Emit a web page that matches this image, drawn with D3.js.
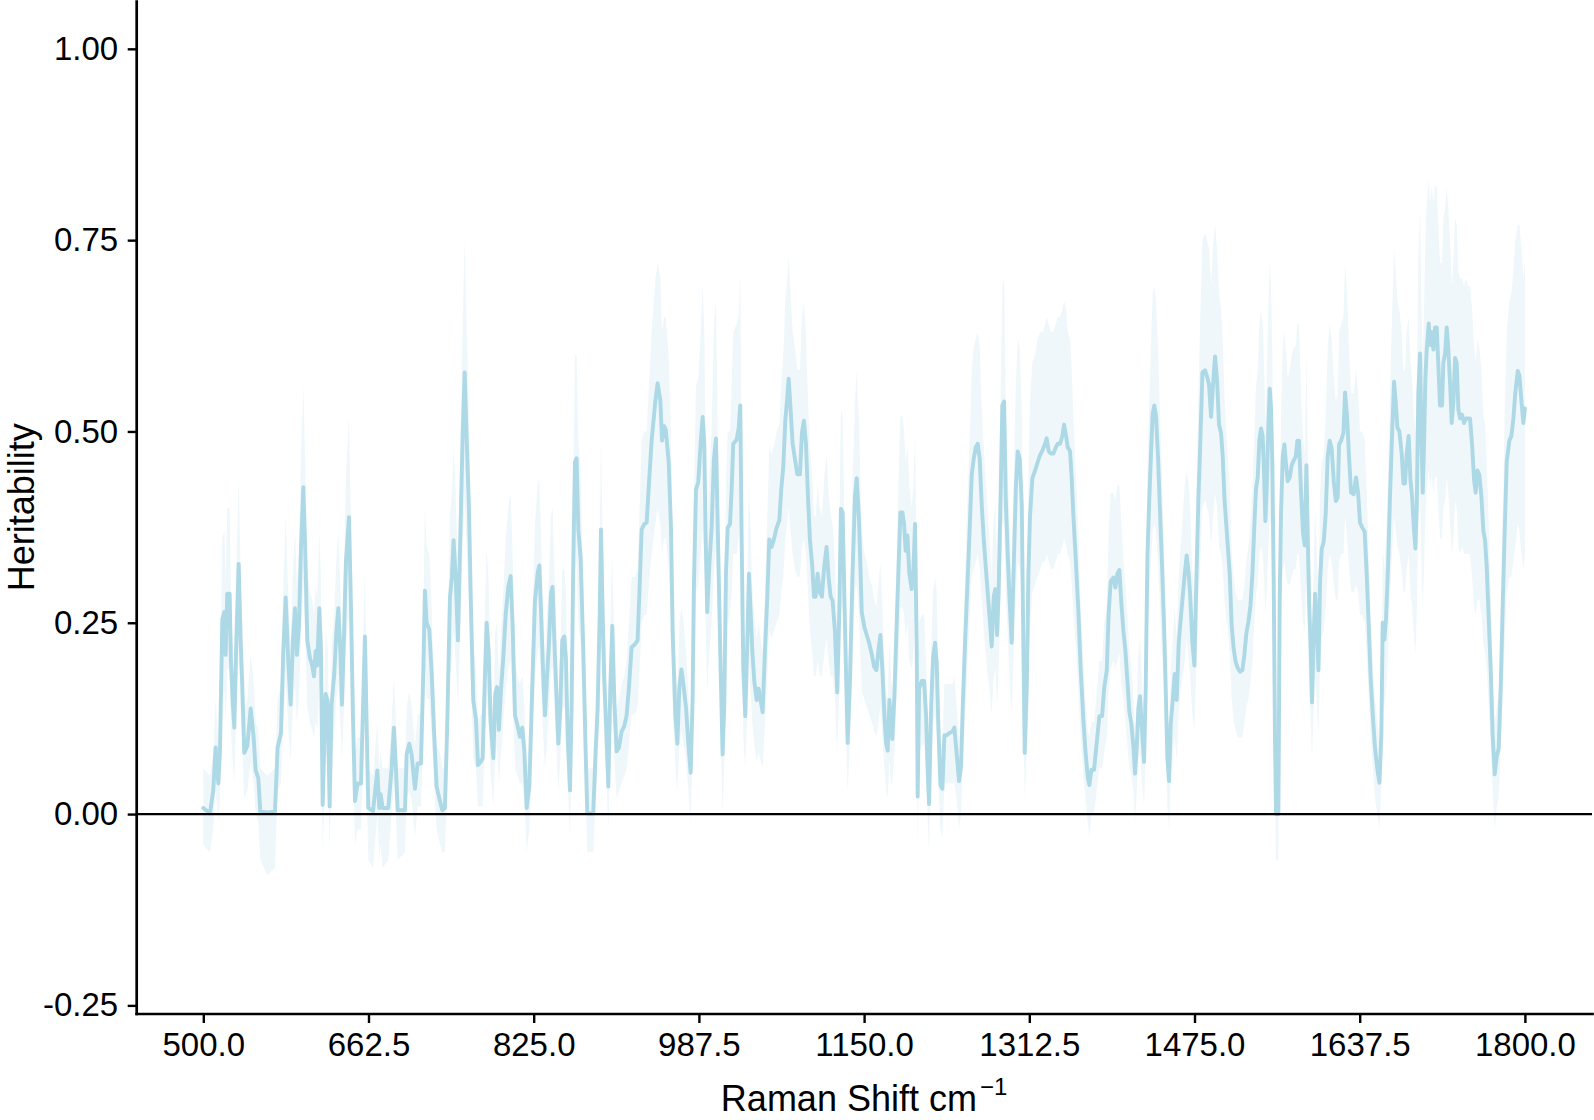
<!DOCTYPE html>
<html><head><meta charset="utf-8">
<script src="https://cdn.jsdelivr.net/npm/d3@7"></script>
<style>
body{margin:0;background:#fff}
svg{display:block}
text{font-family:"Liberation Sans",Arial,Helvetica,sans-serif;fill:#000}
</style>
</head><body>
<svg id="chart" width="1594" height="1120"></svg>
<script>
// Raman shift (cm^-1) of each vertex of the heritability trace
const ramanShift = [
500.0,506.6,509.8,512.1,514.8,516.4,518.7,520.7,522.0,523.6,
525.9,527.2,528.9,530.5,532.5,534.8,536.7,538.4,540.3,543.3,
546.6,549.5,551.5,554.1,556.1,563.0,570.5,573.1,576.4,578.7,
581.0,583.6,585.9,588.2,590.2,592.1,594.1,596.1,598.4,600.3,
602.3,604.9,607.2,608.9,610.5,612.1,614.1,615.7,617.4,620.3,
622.3,624.3,626.2,628.9,630.8,632.8,634.8,636.4,638.4,640.3,
643.3,645.3,647.2,649.2,651.8,655.1,659.0,662.3,667.0,671.2,
673.1,674.4,676.4,682.0,685.2,687.5,689.5,691.2,698.4,700.0,
702.6,704.9,708.2,710.8,714.1,716.4,718.0,719.7,722.3,724.6,
726.9,729.5,732.8,735.1,737.7,740.0,742.6,744.6,746.2,748.2,
750.5,752.5,755.1,757.1,759.0,761.3,763.3,765.6,768.2,770.2,
772.8,774.8,776.7,778.7,780.7,782.6,785.3,787.2,788.9,790.8,
792.8,795.1,797.4,800.0,802.3,804.3,806.6,809.2,811.5,813.8,
815.8,818.1,820.7,823.6,826.2,828.9,830.5,832.1,834.4,836.1,
838.0,840.0,842.0,843.6,845.3,847.5,849.2,851.2,853.1,855.1,
856.7,858.4,860.7,862.3,863.9,865.6,867.2,868.9,871.2,873.8,
876.1,877.7,883.6,885.9,887.9,889.9,891.2,892.8,894.4,896.7,
898.4,900.3,902.3,904.3,906.6,908.9,911.5,914.1,916.4,918.7,
921.3,924.6,927.2,929.2,931.2,933.8,936.1,938.4,941.0,944.7,
946.9,949.6,951.2,953.2,954.9,957.8,960.1,961.7,964.4,966.3,
968.3,970.3,972.6,974.9,977.1,979.4,981.3,982.6,984.6,986.9,
989.2,991.2,992.8,994.1,995.7,997.7,1000.0,1002.3,1004.3,1006.6,
1008.9,1010.8,1012.5,1014.1,1015.8,1018.1,1019.7,1021.3,1024.6,1026.6,
1028.2,1029.5,1031.2,1033.1,1035.1,1036.7,1038.4,1040.0,1042.0,1044.3,
1046.2,1048.2,1050.2,1052.5,1054.8,1056.7,1059.0,1061.3,1063.9,1066.6,
1068.5,1070.5,1072.5,1074.4,1075.8,1077.7,1079.7,1082.0,1084.3,1086.9,
1088.9,1090.8,1092.8,1094.8,1096.7,1099.0,1100.7,1102.3,1104.3,1106.6,
1108.5,1110.8,1113.1,1115.1,1117.1,1119.0,1121.3,1123.6,1125.6,1127.2,
1128.9,1130.5,1132.2,1133.8,1136.1,1138.4,1141.0,1142.7,1145.0,1147.7,
1150.3,1152.6,1154.9,1157.5,1159.8,1162.1,1164.1,1166.0,1168.0,1170.0,
1171.6,1173.2,1174.9,1176.5,1177.8,1179.8,1181.8,1183.7,1185.7,1187.7,
1189.3,1190.9,1192.6,1194.5,1196.8,1198.5,1200.1,1201.8,1202.7,1204.1,
1206.7,1209.0,1211.0,1212.6,1213.9,1215.9,1217.8,1219.8,1221.4,1223.1,
1225.1,1227.0,1229.0,1231.3,1233.9,1236.9,1238.8,1241.1,1243.4,1245.4,
1247.0,1249.3,1251.6,1253.6,1255.9,1257.8,1259.8,1261.8,1263.7,1265.7,
1267.7,1269.6,1271.6,1273.6,1275.5,1277.5,1279.1,1280.8,1282.4,1284.4,
1286.0,1287.7,1289.3,1291.3,1293.3,1295.2,1297.2,1299.2,1301.1,1303.1,
1305.1,1306.7,1308.0,1310.0,1311.6,1313.2,1315.5,1318.2,1320.5,1323.1,
1325.7,1328.0,1329.6,1331.6,1333.9,1336.2,1338.5,1340.5,1342.8,1345.0,
1346.7,1348.7,1350.3,1352.6,1354.2,1355.9,1358.2,1360.8,1363.1,1365.7,
1367.7,1370.0,1371.6,1373.6,1376.2,1378.8,1381.4,1384.1,1386.1,1388.7,
1390.6,1392.6,1395.2,1397.2,1399.1,1401.1,1403.1,1405.1,1407.0,1409.0,
1411.0,1412.9,1414.9,1416.5,1418.2,1419.8,1421.4,1423.4,1425.4,1427.0,
1428.7,1430.3,1432.3,1433.9,1435.5,1437.2,1439.2,1441.1,1443.1,1445.1,
1446.7,1448.3,1450.0,1451.6,1453.6,1455.5,1457.5,1459.5,1461.4,1463.4,
1465.4,1467.3,1469.3,1470.6,1472.9,1474.9,1476.8,1478.8,1480.5,1482.8,
1485.4,1487.3,1489.3,1491.3,1493.2,1495.2,1497.2,1499.1,1501.1,1502.8,
1504.4,1506.0,1507.7,1509.6,1511.6,1513.6,1515.5,1517.5,1519.8,1522.1,
1524.1,1526.0,1528.0,1530.0,1532.0,1533.9,1535.5,1537.2,1538.8,1540.5,
1542.1,1543.4,1544.7,1546.0,1547.7,1549.0,1550.3,1551.6,1552.9,1554.2,
1555.2,1557.5,1558.8,1560.1,1561.8,1563.4,1565.1,1566.7,1568.7,1570.6,
1572.6,1574.6,1576.2,1577.8,1579.8,1581.8,1583.4,1585.1,1586.4,1587.7,
1589.3,1590.6,1592.3,1593.6,1595.2,1596.9,1598.5,1600.1,1602.1,1604.1,
1606.0,1608.0,1610.0,1612.0,1614.0,1615.9,1617.2,1619.2,1621.5,1623.1,
1625.1,1627.0,1629.0,1631.6,1633.9,1635.9,1637.8,1639.8,1642.4,1644.4,
1646.4,1648.3,1650.3,1652.6,1654.9,1656.9,1658.8,1660.1,1661.8,1663.4,
1665.4,1667.3,1669.3,1671.3,1672.9,1674.6,1676.5,1678.8,1680.5,1682.1,
1683.7,1685.7,1687.4,1689.0,1691.0,1692.3,1693.6,1695.2,1696.9,1698.2,
1699.5,1700.8,1702.1,1703.4,1705.4,1706.7,1708.3,1710.0,1711.6,1713.3,
1714.9,1716.5,1718.5,1719.8,1721.5,1723.1,1724.7,1726.4,1728.0,1729.7,
1731.3,1732.9,1734.6,1736.2,1738.2,1740.1,1742.1,1744.1,1746.0,1748.0,
1750.0,1751.6,1753.3,1755.2,1757.2,1759.2,1760.8,1762.4,1764.4,1766.4,
1768.3,1770.3,1772.3,1774.2,1776.2,1778.2,1780.1,1782.1,1784.7,1786.7,
1788.7,1790.6,1793.0,1794.6,1796.6,1798.5,1800.0
];

// Heritability estimate at each vertex
const heritability = [
0.008,0.001,0.031,0.087,0.040,0.082,0.255,0.264,0.208,0.288,
0.288,0.199,0.148,0.113,0.227,0.327,0.227,0.166,0.080,0.089,
0.138,0.101,0.057,0.047,0.003,0.002,0.003,0.087,0.106,0.213,
0.283,0.199,0.143,0.227,0.269,0.208,0.246,0.348,0.427,0.344,
0.227,0.204,0.194,0.180,0.213,0.194,0.269,0.218,0.012,0.157,
0.148,0.010,0.143,0.185,0.236,0.269,0.213,0.143,0.232,0.330,
0.388,0.269,0.129,0.017,0.040,0.040,0.232,0.008,0.004,0.057,
0.008,0.026,0.008,0.008,0.059,0.113,0.059,0.005,0.005,0.078,
0.092,0.078,0.033,0.066,0.066,0.185,0.292,0.250,0.241,0.185,
0.110,0.036,0.017,0.005,0.008,0.120,0.283,0.311,0.358,0.311,
0.227,0.344,0.493,0.577,0.493,0.400,0.269,0.148,0.124,0.064,
0.068,0.073,0.166,0.250,0.213,0.120,0.073,0.157,0.166,0.110,
0.162,0.204,0.260,0.297,0.311,0.246,0.129,0.115,0.101,0.113,
0.082,0.008,0.036,0.166,0.278,0.315,0.325,0.269,0.180,0.129,
0.176,0.222,0.288,0.297,0.227,0.152,0.092,0.138,0.227,0.232,
0.204,0.101,0.031,0.143,0.325,0.460,0.465,0.372,0.334,0.213,
0.082,0.001,0.001,0.082,0.138,0.260,0.372,0.264,0.176,0.101,
0.036,0.162,0.246,0.148,0.082,0.087,0.108,0.115,0.129,0.166,
0.218,0.222,0.227,0.297,0.372,0.379,0.381,0.432,0.488,0.540,
0.563,0.540,0.488,0.507,0.502,0.460,0.372,0.236,0.129,0.092,
0.166,0.189,0.166,0.138,0.092,0.054,0.150,0.299,0.424,0.434,
0.484,0.519,0.484,0.364,0.264,0.324,0.374,0.464,0.491,0.338,
0.188,0.078,0.144,0.314,0.374,0.379,0.424,0.484,0.489,0.504,
0.534,0.364,0.188,0.128,0.224,0.314,0.264,0.214,0.174,0.149,
0.164,0.149,0.133,0.214,0.284,0.359,0.349,0.359,0.374,0.384,
0.424,0.454,0.514,0.544,0.569,0.529,0.484,0.464,0.444,0.444,
0.499,0.514,0.484,0.414,0.359,0.324,0.284,0.284,0.314,0.289,
0.284,0.324,0.349,0.309,0.284,0.279,0.239,0.159,0.264,0.399,
0.394,0.289,0.188,0.093,0.174,0.304,0.414,0.439,0.384,0.264,
0.244,0.234,0.224,0.209,0.193,0.188,0.214,0.234,0.188,0.128,
0.093,0.083,0.149,0.113,0.098,0.154,0.239,0.314,0.394,0.394,
0.379,0.344,0.364,0.314,0.294,0.319,0.379,0.214,0.023,0.164,
0.174,0.174,0.128,0.053,0.013,0.138,0.204,0.224,0.198,0.113,
0.038,0.033,0.103,0.103,0.106,0.108,0.113,0.078,0.043,0.063,
0.138,0.224,0.299,0.364,0.444,0.464,0.479,0.484,0.464,0.404,
0.359,0.324,0.289,0.254,0.219,0.284,0.294,0.234,0.294,0.424,
0.534,0.539,0.414,0.338,0.274,0.224,0.324,0.424,0.474,0.464,
0.404,0.214,0.080,0.164,0.314,0.389,0.439,0.449,0.459,0.469,
0.476,0.484,0.491,0.474,0.471,0.471,0.479,0.484,0.484,0.494,
0.509,0.494,0.479,0.474,0.439,0.389,0.333,0.264,0.188,0.123,
0.083,0.048,0.038,0.058,0.058,0.093,0.128,0.128,0.164,0.188,
0.264,0.304,0.309,0.296,0.314,0.319,0.274,0.239,0.214,0.174,
0.133,0.118,0.088,0.053,0.088,0.138,0.154,0.108,0.068,0.164,
0.338,0.404,0.474,0.524,0.534,0.519,0.464,0.394,0.324,0.244,
0.164,0.073,0.043,0.118,0.149,0.183,0.149,0.224,0.254,0.284,
0.314,0.338,0.314,0.288,0.225,0.194,0.304,0.409,0.477,0.577,
0.580,0.572,0.561,0.519,0.561,0.598,0.567,0.509,0.498,0.467,
0.414,0.383,0.351,0.315,0.246,0.215,0.199,0.191,0.186,0.188,
0.209,0.236,0.251,0.272,0.315,0.378,0.425,0.440,0.488,0.504,
0.493,0.446,0.383,0.425,0.509,0.556,0.530,0.456,0.304,0.094,
0.000,0.000,0.278,0.393,0.467,0.483,0.456,0.435,0.440,0.456,
0.462,0.467,0.488,0.488,0.420,0.367,0.351,0.456,0.362,0.278,
0.215,0.146,0.236,0.288,0.251,0.188,0.304,0.346,0.356,0.393,
0.467,0.488,0.477,0.435,0.409,0.414,0.483,0.488,0.498,0.551,
0.519,0.467,0.420,0.418,0.440,0.420,0.381,0.375,0.369,0.313,
0.245,0.177,0.131,0.086,0.058,0.041,0.103,0.250,0.228,0.256,
0.324,0.415,0.494,0.565,0.539,0.505,0.500,0.471,0.432,0.432,
0.471,0.494,0.437,0.415,0.369,0.347,0.403,0.551,0.602,0.494,
0.420,0.483,0.568,0.607,0.641,0.613,0.630,0.607,0.636,0.636,
0.585,0.534,0.534,0.590,0.602,0.636,0.607,0.562,0.511,0.539,
0.596,0.590,0.528,0.517,0.522,0.511,0.517,0.517,0.517,0.483,
0.437,0.420,0.449,0.443,0.415,0.369,0.358,0.324,0.256,0.188,
0.103,0.052,0.075,0.086,0.165,0.273,0.369,0.460,0.488,0.494,
0.517,0.551,0.579,0.573,0.539,0.511,0.530
];

// Lower bound of the confidence band
const lowerCI = [
-0.04,-0.05,-0.02,0.03,-0.01,0.02,0.16,0.16,0.12,0.19,
0.19,0.11,0.07,0.04,0.14,0.22,0.14,0.09,0.02,0.03,
0.07,0.04,0.00,-0.01,-0.06,-0.08,-0.07,0.03,0.04,0.12,
0.18,0.11,0.07,0.14,0.17,0.12,0.15,0.23,0.30,0.23,
0.14,0.12,0.11,0.10,0.12,0.11,0.17,0.13,-0.05,0.08,
0.07,-0.05,0.07,0.10,0.15,0.17,0.12,0.07,0.14,0.22,
0.26,0.17,0.06,-0.04,-0.02,-0.02,0.14,-0.06,-0.07,0.00,
-0.06,-0.04,-0.07,-0.06,0.00,0.04,0.00,-0.06,-0.05,0.02,
0.03,0.02,-0.03,0.01,0.01,0.10,0.19,0.15,0.15,0.10,
0.04,-0.02,-0.04,-0.05,-0.05,0.05,0.18,0.20,0.24,0.20,
0.14,0.23,0.35,0.41,0.35,0.27,0.17,0.07,0.06,0.01,
0.01,0.01,0.09,0.15,0.12,0.05,0.01,0.08,0.09,0.04,
0.08,0.12,0.16,0.19,0.20,0.15,0.06,0.05,0.04,0.04,
0.02,-0.05,-0.02,0.09,0.18,0.21,0.22,0.17,0.10,0.06,
0.09,0.13,0.19,0.19,0.14,0.08,0.03,0.07,0.14,0.14,
0.12,0.04,-0.03,0.07,0.22,0.32,0.33,0.25,0.22,0.12,
0.02,-0.05,-0.05,0.02,0.07,0.16,0.25,0.16,0.09,0.04,
-0.02,0.08,0.15,0.07,0.02,0.03,0.04,0.05,0.06,0.09,
0.13,0.13,0.14,0.19,0.25,0.26,0.26,0.30,0.34,0.38,
0.40,0.38,0.34,0.36,0.36,0.32,0.25,0.14,0.06,0.03,
0.09,0.11,0.09,0.07,0.03,-0.01,0.08,0.19,0.29,0.30,
0.34,0.37,0.34,0.25,0.16,0.21,0.25,0.32,0.35,0.23,
0.10,0.00,0.07,0.20,0.25,0.26,0.29,0.34,0.34,0.36,
0.38,0.25,0.10,0.06,0.13,0.20,0.16,0.12,0.09,0.07,
0.08,0.07,0.06,0.12,0.18,0.24,0.23,0.24,0.25,0.26,
0.29,0.31,0.36,0.38,0.40,0.37,0.34,0.32,0.31,0.31,
0.35,0.36,0.34,0.29,0.24,0.21,0.18,0.18,0.20,0.18,
0.18,0.21,0.23,0.20,0.18,0.18,0.15,0.08,0.16,0.27,
0.27,0.18,0.10,0.03,0.09,0.19,0.29,0.30,0.26,0.16,
0.15,0.14,0.13,0.12,0.11,0.10,0.12,0.14,0.10,0.06,
0.03,0.02,0.07,0.04,0.04,0.08,0.15,0.20,0.27,0.27,
0.26,0.23,0.25,0.20,0.19,0.21,0.26,0.12,-0.04,0.08,
0.09,0.09,0.06,-0.01,-0.05,0.07,0.12,0.13,0.11,0.04,
-0.02,-0.03,0.04,0.04,0.04,0.04,0.04,0.02,-0.02,0.00,
0.07,0.13,0.19,0.25,0.31,0.32,0.33,0.34,0.32,0.28,
0.24,0.21,0.18,0.16,0.13,0.18,0.19,0.14,0.19,0.29,
0.38,0.38,0.29,0.23,0.17,0.13,0.21,0.29,0.33,0.32,
0.28,0.12,0.02,0.08,0.18,0.24,0.29,0.30,0.31,0.32,
0.33,0.33,0.34,0.33,0.32,0.32,0.33,0.34,0.34,0.35,
0.36,0.35,0.34,0.33,0.30,0.26,0.22,0.16,0.10,0.05,
0.02,-0.01,-0.03,0.00,0.00,0.03,0.06,0.06,0.08,0.10,
0.16,0.19,0.20,0.19,0.20,0.21,0.17,0.15,0.12,0.09,
0.06,0.05,0.03,-0.01,0.03,0.07,0.08,0.04,0.01,0.08,
0.23,0.28,0.33,0.37,0.38,0.37,0.32,0.27,0.21,0.15,
0.08,0.01,-0.02,0.05,0.07,0.10,0.07,0.13,0.16,0.18,
0.20,0.23,0.20,0.18,0.13,0.11,0.19,0.28,0.32,0.40,
0.41,0.40,0.39,0.35,0.39,0.42,0.40,0.35,0.34,0.32,
0.28,0.26,0.24,0.21,0.15,0.12,0.11,0.10,0.10,0.10,
0.12,0.14,0.15,0.17,0.20,0.25,0.29,0.30,0.34,0.35,
0.34,0.31,0.26,0.29,0.35,0.39,0.37,0.31,0.19,0.03,
-0.06,-0.06,0.17,0.27,0.32,0.33,0.31,0.30,0.30,0.31,
0.32,0.32,0.34,0.34,0.29,0.25,0.24,0.31,0.25,0.17,
0.12,0.07,0.14,0.18,0.15,0.10,0.19,0.23,0.24,0.27,
0.32,0.34,0.33,0.30,0.28,0.28,0.33,0.34,0.34,0.39,
0.36,0.32,0.29,0.29,0.30,0.29,0.26,0.26,0.25,0.21,
0.15,0.10,0.06,0.02,0.00,-0.02,0.04,0.15,0.14,0.16,
0.21,0.28,0.34,0.39,0.37,0.35,0.34,0.32,0.29,0.29,
0.32,0.34,0.29,0.27,0.23,0.21,0.26,0.38,0.42,0.33,
0.27,0.32,0.39,0.42,0.45,0.43,0.44,0.42,0.44,0.44,
0.40,0.36,0.36,0.40,0.41,0.44,0.42,0.38,0.34,0.36,
0.41,0.40,0.35,0.34,0.35,0.34,0.34,0.34,0.34,0.31,
0.27,0.26,0.28,0.28,0.26,0.22,0.21,0.19,0.14,0.09,
0.03,-0.02,0.01,0.02,0.08,0.16,0.22,0.29,0.31,0.31,
0.33,0.35,0.38,0.37,0.34,0.32,0.34
];

// Upper bound of the confidence band
const upperCI = [
0.06,0.05,0.08,0.15,0.09,0.14,0.36,0.37,0.30,0.40,
0.40,0.29,0.22,0.18,0.32,0.44,0.32,0.25,0.14,0.15,
0.21,0.17,0.12,0.11,0.06,0.05,0.06,0.15,0.17,0.30,
0.39,0.29,0.22,0.32,0.37,0.30,0.34,0.47,0.56,0.46,
0.32,0.29,0.28,0.26,0.30,0.28,0.37,0.31,0.07,0.24,
0.22,0.07,0.22,0.27,0.33,0.37,0.30,0.22,0.32,0.44,
0.52,0.37,0.20,0.08,0.10,0.10,0.32,0.06,0.05,0.12,
0.06,0.08,0.06,0.06,0.12,0.18,0.12,0.06,0.06,0.14,
0.16,0.14,0.09,0.13,0.13,0.27,0.40,0.35,0.34,0.27,
0.18,0.09,0.08,0.06,0.06,0.19,0.39,0.42,0.48,0.42,
0.32,0.46,0.64,0.75,0.64,0.53,0.37,0.22,0.19,0.12,
0.13,0.13,0.25,0.35,0.30,0.19,0.13,0.24,0.25,0.18,
0.24,0.29,0.36,0.40,0.42,0.34,0.20,0.18,0.17,0.18,
0.14,0.06,0.09,0.25,0.38,0.43,0.44,0.37,0.26,0.20,
0.26,0.31,0.39,0.40,0.32,0.23,0.16,0.21,0.32,0.32,
0.29,0.17,0.09,0.22,0.44,0.60,0.60,0.49,0.45,0.30,
0.14,0.06,0.06,0.14,0.21,0.36,0.49,0.37,0.26,0.17,
0.09,0.24,0.34,0.22,0.14,0.15,0.17,0.18,0.20,0.25,
0.31,0.31,0.32,0.40,0.49,0.50,0.50,0.56,0.63,0.70,
0.72,0.70,0.63,0.65,0.65,0.60,0.49,0.33,0.20,0.16,
0.25,0.27,0.25,0.21,0.16,0.11,0.23,0.41,0.56,0.57,
0.63,0.69,0.63,0.48,0.37,0.44,0.50,0.64,0.67,0.45,
0.27,0.14,0.22,0.43,0.50,0.50,0.56,0.63,0.64,0.65,
0.71,0.48,0.27,0.20,0.31,0.43,0.37,0.30,0.26,0.23,
0.25,0.23,0.21,0.30,0.39,0.48,0.47,0.48,0.50,0.51,
0.56,0.60,0.67,0.70,0.73,0.68,0.63,0.61,0.58,0.58,
0.65,0.67,0.63,0.54,0.48,0.44,0.39,0.39,0.43,0.40,
0.39,0.44,0.47,0.42,0.39,0.38,0.33,0.24,0.37,0.53,
0.52,0.40,0.27,0.16,0.26,0.42,0.54,0.58,0.51,0.37,
0.34,0.33,0.31,0.30,0.28,0.27,0.30,0.33,0.27,0.20,
0.16,0.15,0.23,0.18,0.16,0.23,0.33,0.43,0.52,0.52,
0.50,0.46,0.48,0.43,0.40,0.43,0.50,0.30,0.08,0.25,
0.26,0.26,0.20,0.11,0.07,0.21,0.29,0.31,0.29,0.18,
0.09,0.09,0.17,0.17,0.17,0.17,0.18,0.14,0.10,0.12,
0.21,0.31,0.41,0.48,0.58,0.61,0.62,0.63,0.61,0.53,
0.48,0.44,0.40,0.35,0.31,0.39,0.40,0.33,0.40,0.56,
0.69,0.70,0.54,0.45,0.38,0.31,0.44,0.56,0.62,0.61,
0.53,0.30,0.14,0.25,0.45,0.54,0.59,0.60,0.62,0.63,
0.63,0.64,0.65,0.64,0.63,0.63,0.64,0.65,0.65,0.66,
0.67,0.66,0.63,0.62,0.58,0.52,0.45,0.37,0.27,0.20,
0.15,0.11,0.10,0.12,0.12,0.16,0.20,0.20,0.25,0.27,
0.37,0.42,0.42,0.41,0.43,0.43,0.38,0.33,0.30,0.26,
0.21,0.19,0.15,0.11,0.15,0.21,0.23,0.17,0.13,0.25,
0.45,0.53,0.62,0.68,0.69,0.67,0.61,0.52,0.44,0.34,
0.25,0.13,0.10,0.19,0.23,0.27,0.23,0.31,0.35,0.39,
0.43,0.45,0.43,0.40,0.32,0.28,0.42,0.54,0.64,0.75,
0.76,0.75,0.74,0.69,0.74,0.77,0.74,0.68,0.66,0.62,
0.55,0.51,0.47,0.43,0.34,0.31,0.29,0.28,0.28,0.28,
0.30,0.33,0.35,0.38,0.43,0.50,0.56,0.58,0.64,0.66,
0.64,0.59,0.51,0.56,0.67,0.72,0.69,0.60,0.42,0.16,
0.06,0.06,0.39,0.52,0.61,0.63,0.60,0.57,0.58,0.60,
0.61,0.61,0.64,0.64,0.55,0.49,0.47,0.60,0.48,0.39,
0.31,0.22,0.33,0.40,0.35,0.28,0.42,0.46,0.47,0.52,
0.61,0.64,0.62,0.57,0.54,0.55,0.63,0.64,0.65,0.72,
0.68,0.61,0.55,0.55,0.58,0.55,0.50,0.50,0.49,0.42,
0.34,0.26,0.20,0.15,0.12,0.10,0.17,0.35,0.32,0.36,
0.44,0.55,0.65,0.74,0.71,0.67,0.66,0.63,0.58,0.58,
0.63,0.65,0.59,0.57,0.52,0.50,0.56,0.73,0.79,0.67,
0.59,0.66,0.75,0.80,0.83,0.80,0.82,0.80,0.82,0.82,
0.77,0.72,0.72,0.78,0.79,0.82,0.79,0.75,0.69,0.72,
0.78,0.77,0.71,0.70,0.70,0.69,0.70,0.69,0.69,0.66,
0.61,0.59,0.62,0.61,0.58,0.52,0.51,0.46,0.38,0.29,
0.18,0.12,0.14,0.16,0.26,0.39,0.52,0.63,0.67,0.68,
0.71,0.75,0.77,0.77,0.74,0.70,0.72
];

const xTickValues = [500, 662.5, 825, 987.5, 1150, 1312.5, 1475, 1637.5, 1800];
const xTickLabels = ["500.0","662.5","825.0","987.5","1150.0","1312.5","1475.0","1637.5","1800.0"];
const yTickValues = [-0.25, 0, 0.25, 0.5, 0.75, 1];
const yTickLabels = ["-0.25","0.00","0.25","0.50","0.75","1.00"];
const xTitle = "Raman Shift cm";
const xTitleSup = "\u22121";
const yTitle = "Heritability";

(function draw() {
  const n = Math.min(ramanShift.length, heritability.length, lowerCI.length, upperCI.length);
  const idx = d3.range(n);

  const svg = d3.select("#chart");
  const padL = 136.2, padR = 1592, padT = 1.0, padB = 1013.5;
  const x = d3.scaleLinear().domain([434, 1866]).range([padL, padR]);
  const y = d3.scaleLinear().domain([-0.2606, 1.0625]).range([padB, padT]);

  const lineColor = "#ADD8E6";

  // ribbon
  svg.append("path")
    .datum(idx)
    .attr("fill", lineColor)
    .attr("fill-opacity", 0.2)
    .attr("stroke", "none")
    .attr("d", d3.area()
      .x(i => x(ramanShift[i]))
      .y0(i => y(lowerCI[i]))
      .y1(i => y(upperCI[i])));

  // line
  svg.append("path")
    .datum(idx)
    .attr("fill", "none")
    .attr("stroke", lineColor)
    .attr("stroke-width", 3.9)
    .attr("stroke-linejoin", "round")
    .attr("stroke-linecap", "round")
    .attr("d", d3.line()
      .x(i => x(ramanShift[i]))
      .y(i => y(heritability[i])));

  // zero reference line
  svg.append("line")
    .attr("x1", padL).attr("x2", padR)
    .attr("y1", y(0)).attr("y2", y(0))
    .attr("stroke", "#000").attr("stroke-width", 2.3);

  // axes
  const xAxis = d3.axisBottom(x)
    .tickValues(xTickValues)
    .tickFormat((d, i) => xTickLabels[i])
    .tickSize(9.5).tickSizeOuter(0).tickPadding(9.5);
  const yAxis = d3.axisLeft(y)
    .tickValues(yTickValues)
    .tickFormat((d, i) => yTickLabels[i])
    .tickSize(8.5).tickSizeOuter(0).tickPadding(9.5);

  const gx = svg.append("g").attr("transform", `translate(0,${padB})`).call(xAxis);
  const gy = svg.append("g").attr("transform", `translate(${padL},0)`).call(yAxis);

  [gx, gy].forEach(g => {
    g.select(".domain").attr("stroke", "#000").attr("stroke-width", 2.7).attr("stroke-linecap", "square");
    g.selectAll(".tick line").attr("stroke", "#000").attr("stroke-width", 2.4);
    g.selectAll(".tick text")
      .attr("font-family", "'Liberation Sans', Arial, Helvetica, sans-serif")
      .attr("font-size", 33)
      .attr("fill", "#000");
  });

  // axis titles
  const xt = svg.append("text")
    .attr("x", (padL + padR) / 2)
    .attr("y", 1111)
    .attr("text-anchor", "middle")
    .attr("font-size", 36);
  xt.append("tspan").text(xTitle);
  xt.append("tspan").attr("dx", 3).attr("dy", -16).attr("font-size", 24).text(xTitleSup);

  svg.append("text")
    .attr("transform", `translate(34,${(padT + padB) / 2}) rotate(-90)`)
    .attr("text-anchor", "middle")
    .attr("font-size", 36)
    .text(yTitle);
})();
</script>
</body></html>
